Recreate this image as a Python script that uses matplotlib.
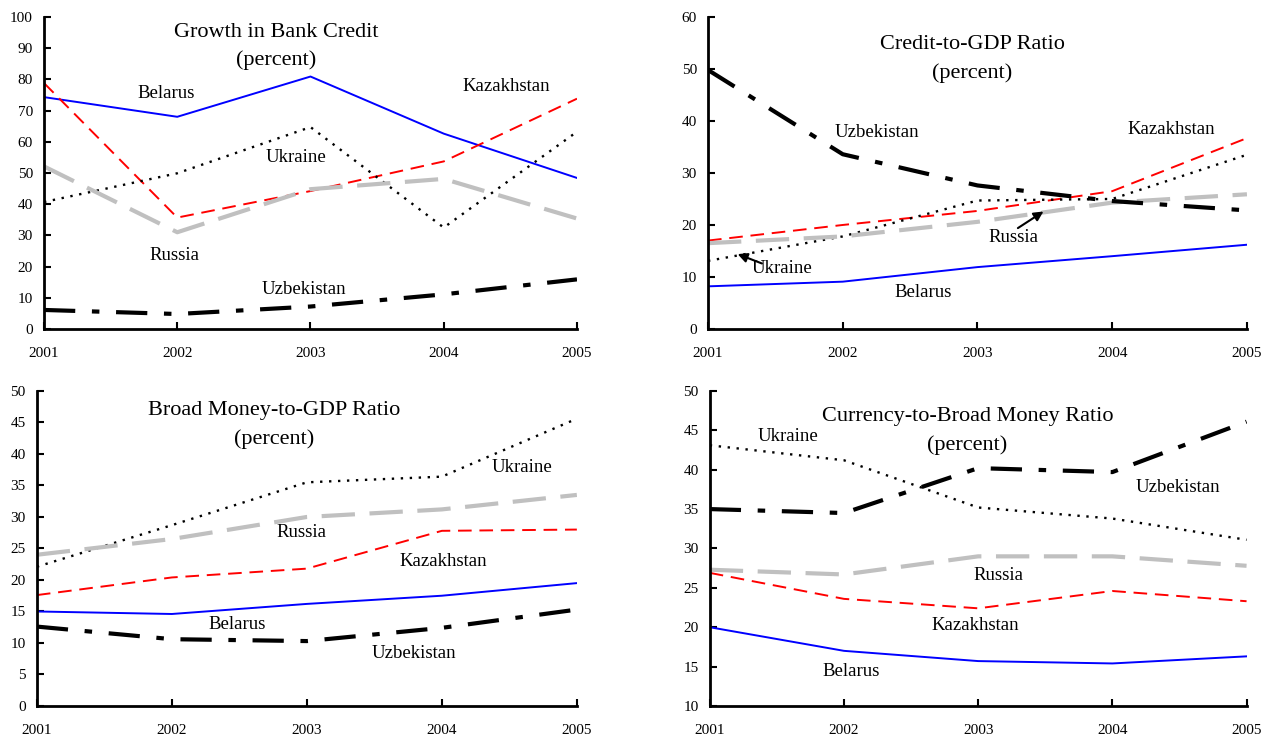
import matplotlib.pyplot as plt

plt.rcParams['font.family'] = ['Liberation Serif', 'DejaVu Serif']

years = [2001, 2002, 2003, 2004, 2005]
countries = ['Belarus', 'Kazakhstan', 'Ukraine', 'Russia', 'Uzbekistan']

# growth in bank credit, percent
credit_growth = {
    'Belarus': [74.3, 68.0, 80.9, 62.6, 48.4],
    'Kazakhstan': [78.8, 35.7, 44.2, 53.7, 73.8],
    'Ukraine': [40.7, 49.9, 64.7, 32.5, 63.2],
    'Russia': [52.1, 31.0, 44.8, 48.1, 35.4],
    'Uzbekistan': [6.1, 4.8, 7.2, 11.1, 15.9],
}

# credit-to-GDP ratio, percent
credit_gdp = {
    'Belarus': [8.2, 9.1, 11.9, 14.0, 16.2],
    'Kazakhstan': [17.0, 20.0, 22.7, 26.5, 36.7],
    'Ukraine': [13.1, 17.8, 24.7, 25.0, 33.5],
    'Russia': [16.5, 17.8, 20.6, 24.3, 25.9],
    'Uzbekistan': [49.8, 33.6, 27.6, 24.6, 22.8],
}

# broad money-to-GDP ratio, percent
money_gdp = {
    'Belarus': [15.0, 14.6, 16.2, 17.5, 19.5],
    'Kazakhstan': [17.6, 20.4, 21.8, 27.8, 28.0],
    'Ukraine': [22.1, 28.7, 35.5, 36.4, 45.6],
    'Russia': [24.0, 26.5, 30.0, 31.2, 33.5],
    'Uzbekistan': [12.6, 10.6, 10.3, 12.4, 15.3],
}

# currency-to-broad money ratio, percent
currency_money = {
    'Belarus': [20.0, 17.0, 15.7, 15.4, 16.3],
    'Kazakhstan': [26.9, 23.6, 22.4, 24.6, 23.3],
    'Ukraine': [43.1, 41.2, 35.2, 33.8, 31.1],
    'Russia': [27.3, 26.7, 29.0, 29.0, 27.8],
    'Uzbekistan': [35.0, 34.5, 40.2, 39.7, 46.1],
}

# line style per country
styles = {
    'Belarus': dict(color='#0000ff', lw=1.4, ls='-'),
    'Kazakhstan': dict(color='#ff0000', lw=1.4, ls=(0, (7, 4))),
    'Ukraine': dict(color='black', lw=1.7, ls=(0, (1, 2.8))),
    'Russia': dict(color='#c0c0c0', lw=3.0, ls=(0, (8, 3.5))),
    'Uzbekistan': dict(color='black', lw=3.0, ls=(0, (7.5, 4, 1.8, 4))),
}


def draw_panel(ax, data, ylim, step, title, title_pos, labels, arrows=()):
    for name in countries:
        ax.plot(years, data[name], **styles[name])
    ax.set_xlim(2001, 2005)
    ax.set_ylim(*ylim)
    ax.set_xticks(years)
    ax.set_yticks(range(ylim[0], ylim[1] + 1, step))
    ax.tick_params(direction='in', length=5, width=1.5, labelsize=11)
    ax.tick_params(axis='x', pad=13)
    ax.tick_params(axis='y', pad=8)
    for s in ['top', 'right']:
        ax.spines[s].set_visible(False)
    for s in ['left', 'bottom']:
        ax.spines[s].set_linewidth(2)
    ax.text(title_pos[0], title_pos[1], title + '\n(percent)', ha='center',
            va='center', multialignment='center', fontsize=16,
            linespacing=1.6)
    for name, (x, y) in labels.items():
        ax.text(x, y, name, ha='center', va='center', fontsize=13.5)
    for head, tail in arrows:
        ax.annotate('', xy=head, xytext=tail,
                    arrowprops=dict(arrowstyle='-|>', color='black', lw=1.5,
                                    mutation_scale=14, shrinkA=0, shrinkB=0))


fig = plt.figure(figsize=(12.72, 7.36), dpi=100)

ax1 = fig.add_axes([0.0346, 0.553, 0.419, 0.424])
draw_panel(ax1, credit_growth, (0, 100), 10, 'Growth in Bank Credit',
           (2002.74, 90.5),
           {'Belarus': (2001.92, 75.6), 'Kazakhstan': (2004.47, 77.6),
            'Ukraine': (2002.89, 55.1), 'Russia': (2001.98, 23.7),
            'Uzbekistan': (2002.95, 12.5)})

ax2 = fig.add_axes([0.5566, 0.553, 0.4237, 0.424])
draw_panel(ax2, credit_gdp, (0, 60), 10, 'Credit-to-GDP Ratio',
           (2002.96, 51.9),
           {'Uzbekistan': (2002.25, 37.7), 'Kazakhstan': (2004.44, 38.3),
            'Russia': (2003.27, 17.6), 'Ukraine': (2001.55, 11.7),
            'Belarus': (2002.6, 7.1)},
           arrows=[((2003.49, 22.6), (2003.3, 19.4)),
                   ((2001.22, 14.4), (2001.4, 12.6))])

ax3 = fig.add_axes([0.029, 0.0408, 0.4245, 0.428])
draw_panel(ax3, money_gdp, (0, 50), 5, 'Broad Money-to-GDP Ratio',
           (2002.76, 44.6),
           {'Ukraine': (2004.59, 37.8), 'Russia': (2002.96, 27.5),
            'Kazakhstan': (2004.01, 23.0), 'Belarus': (2002.48, 13.0),
            'Uzbekistan': (2003.79, 8.3)})

ax4 = fig.add_axes([0.558, 0.0408, 0.422, 0.428])
draw_panel(ax4, currency_money, (10, 50), 5, 'Currency-to-Broad Money Ratio',
           (2002.92, 44.9),
           {'Ukraine': (2001.58, 44.2), 'Uzbekistan': (2004.49, 37.7),
            'Russia': (2003.15, 26.6), 'Kazakhstan': (2002.98, 20.2),
            'Belarus': (2002.05, 14.4)})

fig.savefig('out.png', dpi=100)
